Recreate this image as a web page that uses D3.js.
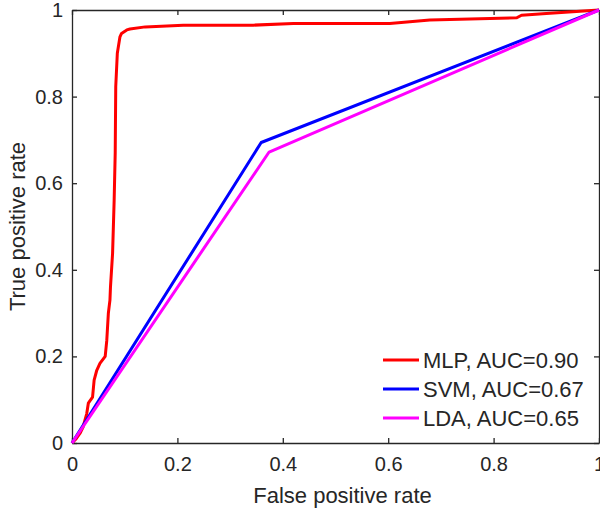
<!DOCTYPE html>
<html>
<head>
<meta charset="utf-8">
<script src="https://cdn.jsdelivr.net/npm/d3@7"></script>
<style>
    body { margin: 0; background: #fff; }
    text { font-family: "Liberation Sans", Arial, Helvetica, sans-serif; fill: #262626; }
</style>
</head>
<body>
<div id="chart"></div>
<script>
// ROC points
const mlpFpr = [0, 0.008, 0.015, 0.021, 0.028, 0.031, 0.039, 0.042, 0.047, 0.053, 0.063, 0.066, 0.069, 0.072, 0.073, 0.077, 0.080, 0.082, 0.083, 0.086, 0.091, 0.094, 0.104, 0.110, 0.139, 0.211, 0.344, 0.420, 0.547, 0.603, 0.679, 0.844, 0.853, 0.900, 1];
const mlpTpr = [0, 0.010, 0.022, 0.037, 0.068, 0.092, 0.106, 0.145, 0.168, 0.184, 0.200, 0.237, 0.300, 0.330, 0.360, 0.438, 0.561, 0.670, 0.823, 0.900, 0.938, 0.946, 0.954, 0.956, 0.961, 0.965, 0.965, 0.969, 0.969, 0.969, 0.977, 0.982, 0.988, 0.992, 1];
const svmFpr = [0, 0.359, 1];
const svmTpr = [0, 0.694, 1];
const ldaFpr = [0, 0.374, 1];
const ldaTpr = [0, 0.672, 1];

const seriesNames = ["MLP, AUC=0.90", "SVM, AUC=0.67", "LDA, AUC=0.65"];
const seriesColors = ["#ff0000", "#0000ff", "#ff00ff"];
const tickValues = [0, 0.2, 0.4, 0.6, 0.8, 1];

let margin = {top: 10, right: 1, bottom: 68, left: 72};
let width = 600 - margin.left - margin.right;
let height = 511 - margin.top - margin.bottom;

let svg = d3.select("#chart").append("svg")
    .attr("width", 600)
    .attr("height", 511)
    .append("g")
    .attr("transform", `translate(${margin.left}, ${margin.top})`);

let x = d3.scaleLinear().domain([0, 1]).range([0, width]);
let y = d3.scaleLinear().domain([0, 1]).range([height, 0]);

let fmt = d => d === 0 || d === 1 ? String(d) : d.toFixed(1);

// axes, ticks pointing inward
let xAxis = d3.axisBottom(x).tickValues(tickValues).tickFormat(fmt).tickSizeInner(-5).tickSizeOuter(0).tickPadding(14);
let yAxis = d3.axisLeft(y).tickValues(tickValues).tickFormat(fmt).tickSizeInner(-5).tickSizeOuter(0).tickPadding(9);
let xTop = d3.axisTop(x).tickValues(tickValues).tickFormat("").tickSizeInner(-5).tickSizeOuter(0);
let yRight = d3.axisRight(y).tickValues(tickValues).tickFormat("").tickSizeInner(-5).tickSizeOuter(0);

let styleAxis = g => {
    g.selectAll("path, line").attr("stroke", "#262626").attr("stroke-width", 1.3);
    g.selectAll("text").attr("font-size", "20px").attr("fill", "#262626")
        .style("font-family", '"Liberation Sans", Arial, sans-serif');
};

svg.append("g").attr("transform", `translate(0, ${height})`).call(xAxis).call(styleAxis);
svg.append("g").call(yAxis).call(styleAxis);
svg.append("g").call(xTop).call(styleAxis);
svg.append("g").attr("transform", `translate(${width}, 0)`).call(yRight).call(styleAxis);

// curves
let line = d3.line().x(d => x(d[0])).y(d => y(d[1]));
let series = [
    d3.zip(mlpFpr, mlpTpr),
    d3.zip(svmFpr, svmTpr),
    d3.zip(ldaFpr, ldaTpr)
];

series.forEach((s, i) => {
    svg.append("path")
        .datum(s)
        .attr("fill", "none")
        .attr("stroke", seriesColors[i])
        .attr("stroke-width", 3)
        .attr("stroke-linejoin", "round")
        .attr("d", line);
});

// legend
let legend = svg.append("g").attr("transform", `translate(${311}, ${350})`);
seriesNames.forEach((name, i) => {
    let row = legend.append("g").attr("transform", `translate(0, ${i * 29})`);
    row.append("line")
        .attr("x1", 0).attr("x2", 36)
        .attr("y1", 0).attr("y2", 0)
        .attr("stroke", seriesColors[i])
        .attr("stroke-width", 3);
    row.append("text")
        .attr("x", 40)
        .attr("y", 0)
        .attr("dy", "0.36em")
        .attr("font-size", "22px")
        .text(name);
});

// axis labels
svg.append("text")
    .attr("x", width / 2 + 7)
    .attr("y", height + 60)
    .attr("text-anchor", "middle")
    .attr("font-size", "22px")
    .text("False positive rate");

svg.append("text")
    .attr("transform", `translate(${-47}, ${height / 2}) rotate(-90)`)
    .attr("text-anchor", "middle")
    .attr("font-size", "22px")
    .text("True positive rate");
</script>
</body>
</html>
